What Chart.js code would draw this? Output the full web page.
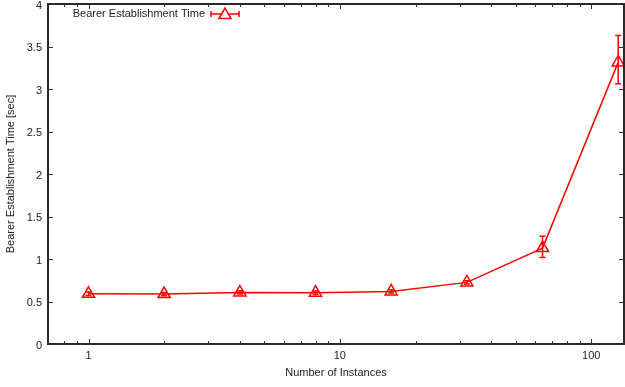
<!DOCTYPE html>
<html>
<head>
<meta charset="utf-8">
<script src="https://cdn.jsdelivr.net/npm/chart.js@4.4.1/dist/chart.umd.min.js"></script>
<style>
  html, body { margin: 0; padding: 0; background: #fff; }
  #wrap { width: 625px; height: 387px; position: relative; }
</style>
</head>
<body>
<div id="wrap"><canvas id="c" width="625" height="387"></canvas></div>
<script>
// Number of instances (log scale) and measured bearer establishment time in seconds
const instances = [1, 2, 4, 8, 16, 32, 64, 128];
const meanTime  = [0.591, 0.587, 0.607, 0.603, 0.619, 0.725, 1.128, 3.313];
const errLow    = [0.571, 0.567, 0.587, 0.583, 0.599, 0.705, 1.018, 3.063];
const errHigh   = [0.611, 0.607, 0.627, 0.623, 0.639, 0.745, 1.269, 3.630];

const xMajorTicks = [1, 10, 100];
const xMinorTicks = [0.8, 0.9, 2, 3, 4, 5, 6, 7, 8, 9, 20, 30, 40, 50, 60, 70, 80, 90];
const yTicks = [0, 0.5, 1, 1.5, 2, 2.5, 3, 3.5, 4];

const seriesLabel = 'Bearer Establishment Time';
const RED = '#ff0000';
const INK = '#222222';
const FONT = '"Liberation Sans", Arial, Helvetica, sans-serif';

// Frame, inward tick marks, error bars and the key, drawn with the chart's scales
const gnuplotStyle = {
  id: 'gnuplotStyle',
  afterDatasetsDraw(chart) {
    const ctx = chart.ctx;
    const a = chart.chartArea;
    const xs = chart.scales.x, ys = chart.scales.y;
    ctx.save();

    // error bars
    ctx.strokeStyle = RED;
    ctx.lineWidth = 1.5;
    const cap = 3;
    instances.forEach((v, i) => {
      const px = xs.getPixelForValue(v);
      const lo = ys.getPixelForValue(errLow[i]);
      const hi = ys.getPixelForValue(errHigh[i]);
      ctx.beginPath();
      ctx.moveTo(px, lo); ctx.lineTo(px, hi);
      ctx.moveTo(px - cap, lo); ctx.lineTo(px + cap, lo);
      ctx.moveTo(px - cap, hi); ctx.lineTo(px + cap, hi);
      ctx.stroke();
    });

    // ticks
    ctx.strokeStyle = '#333';
    ctx.lineWidth = 1;
    const major = 5, minor = 3;
    ctx.beginPath();
    xMajorTicks.forEach(v => {
      const px = Math.round(xs.getPixelForValue(v)) + 0.5;
      ctx.moveTo(px, a.bottom); ctx.lineTo(px, a.bottom - major);
      ctx.moveTo(px, a.top); ctx.lineTo(px, a.top + major);
    });
    xMinorTicks.forEach(v => {
      const px = Math.round(xs.getPixelForValue(v)) + 0.5;
      ctx.moveTo(px, a.bottom); ctx.lineTo(px, a.bottom - minor);
      ctx.moveTo(px, a.top); ctx.lineTo(px, a.top + minor);
    });
    yTicks.forEach(v => {
      const py = Math.round(ys.getPixelForValue(v)) + 0.5;
      ctx.moveTo(a.left, py); ctx.lineTo(a.left + major, py);
      ctx.moveTo(a.right, py); ctx.lineTo(a.right - major, py);
    });
    ctx.stroke();

    // frame
    ctx.strokeStyle = '#2a2a2a';
    ctx.lineWidth = 2;
    ctx.strokeRect(a.left, a.top, a.right - a.left, a.bottom - a.top);

    // key
    const ky = 14;
    const kx0 = 211, kx1 = 239, kxm = (kx0 + kx1) / 2;
    ctx.fillStyle = INK;
    ctx.font = '11px ' + FONT;
    ctx.textAlign = 'right';
    ctx.textBaseline = 'middle';
    ctx.fillText(chart.data.datasets[0].label, 205, ky);
    ctx.strokeStyle = RED;
    ctx.lineWidth = 1.5;
    ctx.beginPath();
    ctx.moveTo(kx0, ky); ctx.lineTo(kx1, ky);
    ctx.moveTo(kx0, ky - cap); ctx.lineTo(kx0, ky + cap);
    ctx.moveTo(kx1, ky - cap); ctx.lineTo(kx1, ky + cap);
    ctx.stroke();
    ctx.fillStyle = '#ffffff';
    Chart.helpers.drawPoint(ctx, { pointStyle: 'triangle', radius: 7, rotation: 0, borderWidth: 1.5 }, kxm, ky + 1);
    ctx.restore();
  }
};

new Chart(document.getElementById('c'), {
  type: 'line',
  data: {
    datasets: [{
      label: seriesLabel,
      data: instances.map((v, i) => ({ x: v, y: meanTime[i] })),
      borderColor: RED,
      borderWidth: 1.5,
      backgroundColor: 'rgba(0,0,0,0)',
      pointStyle: 'triangle',
      pointRadius: 7,
      pointBorderWidth: 1.5,
      pointBorderColor: RED,
      pointBackgroundColor: 'rgba(0,0,0,0)',
      tension: 0,
      clip: false
    }]
  },
  options: {
    responsive: false,
    animation: false,
    devicePixelRatio: 1,
    layout: { autoPadding: false, padding: { top: 4, right: 1, left: 0, bottom: 0 } },
    plugins: { legend: { display: false }, tooltip: { enabled: false } },
    scales: {
      x: {
        type: 'logarithmic',
        min: 0.69,
        max: 135,
        afterBuildTicks: s => { s.ticks = xMajorTicks.map(v => ({ value: v })); },
        afterFit: s => { s.height = 43; s.paddingLeft = 0; s.paddingRight = 0; },
        grid: { display: false, drawTicks: false },
        border: { display: false },
        ticks: {
          autoSkip: false, maxRotation: 0, padding: 5,
          color: INK, font: { family: FONT, size: 11 },
          callback: v => String(v)
        },
        title: {
          display: true, text: 'Number of Instances', color: INK,
          font: { family: FONT, size: 11 }, padding: { top: 4, bottom: 7 }
        }
      },
      y: {
        type: 'linear',
        min: 0,
        max: 4,
        afterBuildTicks: s => { s.ticks = yTicks.map(v => ({ value: v })); },
        afterFit: s => { s.width = 48; s.paddingTop = 0; s.paddingBottom = 0; },
        grid: { display: false, drawTicks: false },
        border: { display: false },
        ticks: {
          padding: 6, labelOffset: 1.5, color: INK, font: { family: FONT, size: 11 },
          callback: v => String(v)
        },
        title: {
          display: true, text: 'Bearer Establishment Time [sec]', color: INK,
          font: { family: FONT, size: 11 }, padding: { top: 4, bottom: 0 }
        }
      }
    }
  },
  plugins: [gnuplotStyle]
});
</script>
</body>
</html>
